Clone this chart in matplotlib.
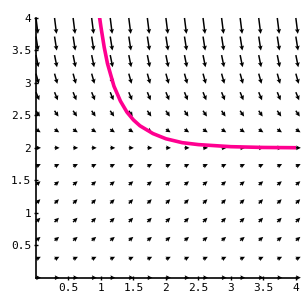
import numpy as np
import matplotlib
matplotlib.use("Agg")
import matplotlib.pyplot as plt

# grid of the direction field (15 x 15 points over [0,4] x [0,4])
grid_x = np.linspace(0, 4, 15)
grid_y = np.linspace(0, 4, 15)
# slope read for each row of arrows (same along a row)
row_slopes = [0.0, 0.49, 0.82, 0.98, 0.98, 0.82, 0.49, 0.0,
              -0.65, -1.47, -2.45, -3.59, -4.9, -6.37, -8.0]

# solution curve
curve_x = [0.98, 1.0, 1.05, 1.1, 1.2, 1.3, 1.4, 1.5, 1.6, 1.8, 2.0, 2.25, 2.5, 3.0, 3.5, 4.0]
curve_y = [4.0, 3.86, 3.55, 3.30, 2.95, 2.72, 2.55, 2.43, 2.34, 2.22, 2.14, 2.08, 2.05, 2.018, 2.006, 2.002]

ticks = [0.5, 1, 1.5, 2, 2.5, 3, 3.5, 4]
tick_labels = ["0.5", "1", "1.5", "2", "2.5", "3", "3.5", "4"]

fig = plt.figure(figsize=(3.05, 3.05), dpi=100)
ax = fig.add_axes([0.118, 0.0895, 0.852, 0.8515])

X, Y = np.meshgrid(grid_x, grid_y)
F = np.array(row_slopes)[:, None] * np.ones_like(X)
mag = np.sqrt(1 + F**2)
ppu = 65.0  # pixels per unit
len_px = 5 + 11 * (np.sqrt(mag) - 1) / (np.sqrt(mag.max()) - 1)
L = len_px / ppu
U = L / mag
V = L * F / mag
ax.quiver(X, Y, U, V, angles="xy", scale_units="xy", scale=1,
          units="dots", width=1.5, headwidth=3.2, headlength=3.2,
          headaxislength=2.8, color="black", clip_on=False, zorder=2)

ax.plot(curve_x, curve_y, color="#ff0090", lw=2.6, zorder=3, clip_on=True)

ax.set_xlim(0, 4)
ax.set_ylim(0, 4)
for s in ["top", "right"]:
    ax.spines[s].set_visible(False)
ax.spines["left"].set_linewidth(1.2)
ax.spines["bottom"].set_linewidth(1.2)
ax.set_xticks(ticks)
ax.set_xticklabels(tick_labels)
ax.set_yticks(ticks)
ax.set_yticklabels(tick_labels)
ax.tick_params(direction="inout", length=3, width=1, labelsize=8, pad=2)
for lab in ax.get_xticklabels() + ax.get_yticklabels():
    lab.set_family("DejaVu Sans Mono")

fig.savefig("out.png", dpi=100)
